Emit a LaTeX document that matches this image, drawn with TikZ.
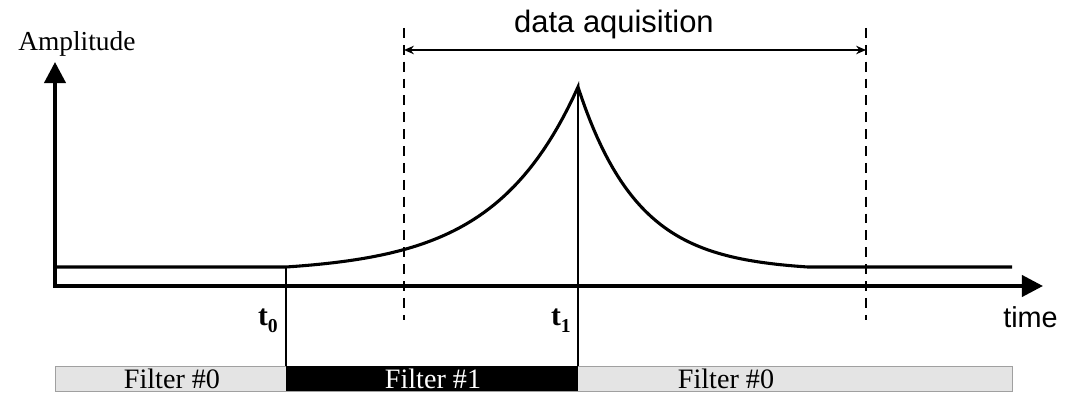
\documentclass[tikz,border=0pt]{standalone}
\usepackage{fontspec}
\setmainfont{Liberation Serif}
\setsansfont{Liberation Sans}
\usetikzlibrary{arrows.meta,positioning}
\definecolor{barfill}{HTML}{E4E4E4}
\definecolor{barline}{HTML}{A0A0A0}

\begin{document}
\begin{tikzpicture}[>=Stealth, x=0.025cm, y=-0.025cm,
  axis/.style={line width=2.8pt, {Triangle[length=15pt,width=15pt]}-{Triangle[length=15pt,width=15pt]}},
  signal/.style={line width=2.2pt},
  tline/.style={line width=1.2pt},
  marker/.style={line width=1.5pt, dash pattern=on 7pt off 5pt},
  filtertext/.style={inner sep=0pt, font=\fontsize{20}{21}\selectfont},
  tlabel/.style={inner sep=0pt, font=\fontsize{21}{22}\selectfont\bfseries}]
  \useasboundingbox (0,0) rectangle (1065,393);

  % axes
  \coordinate (ytip) at (55,62);
  \coordinate (orig) at (55,286);
  \coordinate (xtip) at (1043,286);
  \draw[axis] (ytip) -- (orig) -- (xtip);
  \node[anchor=base west, inner sep=0pt, font=\fontsize{19.5}{20}\selectfont] (amp) at (18,51) {Amplitude};
  \node[anchor=base west, inner sep=0pt, font=\sffamily\fontsize{20.5}{22}\selectfont] (time) at (1003,327) {time};

  % signal: rise from t0 up to t1, then decay
  \coordinate (t0) at (286,267);
  \coordinate (t1) at (578,87);
  \draw[signal] (55,267) -- (t0)
    -- plot[domain=286:578, samples=60] (\x, {267-180*(exp(3.5*(\x-286)/292)-1)/(exp(3.5)-1)})
    -- plot[domain=578:808, samples=60] (\x, {267-180*(exp(-(\x-578)/60)-exp(-230/60))/(1-exp(-230/60))})
    -- (1012,267);

  % filter bar
  \coordinate (b0) at (286,366);
  \coordinate (b1) at (578,366);
  \draw[barline, fill=barfill, line width=0.6pt] (55,366) rectangle (1012,391);
  \fill (b0) rectangle (578,391);
  \node[filtertext] (f0a) at (172,379) {Filter \#0};
  \node[filtertext, text=white] (f1) at (433,379) {Filter \#1};
  \node[filtertext] (f0b) at (726,379) {Filter \#0};

  % switching times
  \draw[tline] (t0) -- (b0);
  \draw[tline] (t1) -- (b1);
  \node[tlabel, anchor=base east] (lt0) at (278,325) {t\raisebox{-5pt}{\fontsize{14}{14}\selectfont 0}};
  \node[tlabel, anchor=base east] (lt1) at (571,325) {t\raisebox{-5pt}{\fontsize{14}{14}\selectfont 1}};

  % acquisition window
  \coordinate (d0top) at (404,28);
  \coordinate (d0bot) at (404,320);
  \coordinate (d1top) at (866,28);
  \coordinate (d1bot) at (866,320);
  \draw[marker] (d0top) -- (d0bot);
  \draw[marker] (d1top) -- (d1bot);
  \draw[line width=1.4pt, {Stealth[length=7pt,width=6pt]}-{Stealth[length=7pt,width=6pt]}] (404,50) -- (866,50);
  \node[anchor=base, inner sep=0pt, font=\sffamily\fontsize{22}{24}\selectfont] (acq) at (614,33) {data aquisition};
\end{tikzpicture}
\end{document}
